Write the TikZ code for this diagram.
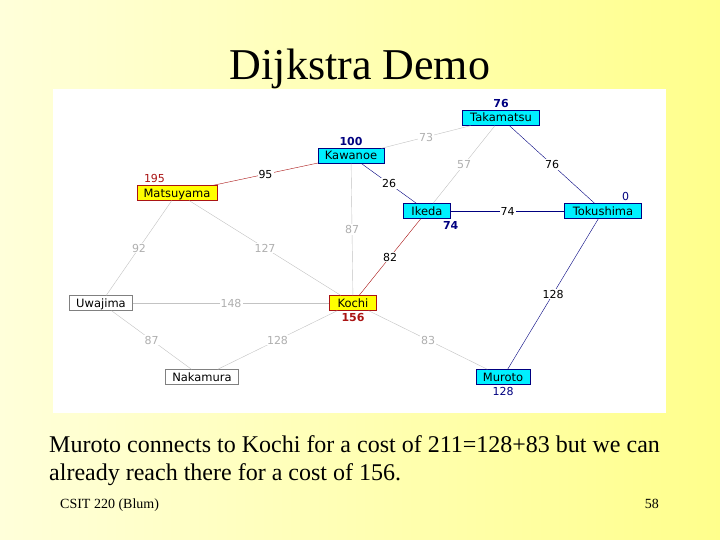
\documentclass[tikz,border=0pt]{standalone}
\usepackage{fontspec}
\setmainfont{Liberation Serif}
\newfontfamily\graphfont{DejaVu Sans}
\usetikzlibrary{positioning}
\definecolor{navy}{RGB}{0,0,128}
\definecolor{darkred}{RGB}{170,20,20}
\definecolor{aqua}{RGB}{0,240,255}
\definecolor{lemon}{RGB}{255,255,0}
\definecolor{lightgrey}{RGB}{195,195,195}
\definecolor{labelgrey}{RGB}{175,175,175}

\begin{document}
\begin{tikzpicture}[
        x=1pt, y=-1pt,
        city/.style={rectangle, draw, inner xsep=3pt, inner ysep=0pt, minimum height=15pt, text height=10pt, text depth=2pt, font=\graphfont\fontsize{11.5}{12}\selectfont},
        known/.style={city, fill=aqua, draw=navy},
        current/.style={city, fill=lemon, draw=darkred},
        unseen/.style={city, fill=white, draw=gray},
        cost/.style={font=\graphfont\fontsize{11}{12}\selectfont, inner sep=1pt},
        boldcost/.style={cost, font=\graphfont\bfseries\fontsize{11}{12}\selectfont},
        dist/.style={fill=white, inner sep=1pt, font=\graphfont\fontsize{11}{12}\selectfont},
        tree/.style={navy, thin},
        path/.style={darkred, thin},
        open/.style={lightgrey, thin}
    ]

    % Background and panel
    \useasboundingbox (0,0) rectangle (720,540);
    \shade[left color={rgb,255:red,255;green,255;blue,218}, right color={rgb,255:red,255;green,255;blue,140}] (0,0) rectangle (720,540);
    \fill[white] (53,89) rectangle (666,413);

    % Title
    \node[font=\fontsize{44}{48}\selectfont, anchor=base] (title) at (360,80) {Dijkstra Demo};

    % Cities
    \node[known, minimum width=77] (takamatsu) at (501,118) {Takamatsu};
    \node[known, minimum width=66] (kawanoe) at (351,156) {Kawanoe};
    \node[current, minimum width=80] (matsuyama) at (177,193) {Matsuyama};
    \node[known, minimum width=47] (ikeda) at (427,211) {Ikeda};
    \node[known, minimum width=77] (tokushima) at (603,211) {Tokushima};
    \node[unseen, minimum width=63] (uwajima) at (101,303) {Uwajima};
    \node[current, minimum width=47] (kochi) at (353,303) {Kochi};
    \node[unseen, minimum width=73] (nakamura) at (202,377) {Nakamura};
    \node[known, minimum width=54] (muroto) at (503,377) {Muroto};

    % Distances found so far
    \node[boldcost, navy, above=1pt of takamatsu] (dtakamatsu) {76};
    \node[boldcost, navy, above=1pt of kawanoe] (dkawanoe) {100};
    \node[cost, darkred, above right=1pt and 6pt of matsuyama.north west] (dmatsuyama) {195};
    \node[boldcost, navy, below=2pt of ikeda.south east] (dikeda) {74};
    \node[cost, navy, above=1pt of tokushima.north east, xshift=-16pt] (dtokushima) {0};
    \node[boldcost, darkred, below=1pt of kochi] (dkochi) {156};
    \node[cost, navy, below=1pt of muroto] (dmuroto) {128};

    % Roads
    \draw[path] (matsuyama) -- node[dist, text=black] {95} (kawanoe);
    \draw[open] (kawanoe) -- node[dist, text=labelgrey] {73} (takamatsu);
    \draw[tree] (kawanoe) -- node[dist, text=black] {26} (ikeda);
    \draw[open] (takamatsu) -- node[dist, text=labelgrey] {57} (ikeda);
    \draw[tree] (takamatsu) -- node[dist, text=black] {76} (tokushima);
    \draw[tree] (ikeda) -- node[dist, text=black] {74} (tokushima);
    \draw[open] (kawanoe) -- node[dist, text=labelgrey] {87} (kochi);
    \draw[path] (ikeda) -- node[dist, text=black] {82} (kochi);
    \draw[open] (matsuyama) -- node[dist, text=labelgrey] {92} (uwajima);
    \draw[open] (matsuyama) -- node[dist, text=labelgrey] {127} (kochi);
    \draw[open] (uwajima) -- node[dist, text=labelgrey] {148} (kochi);
    \draw[open] (uwajima) -- node[dist, text=labelgrey] {87} (nakamura);
    \draw[open] (nakamura) -- node[dist, text=labelgrey] {128} (kochi);
    \draw[open] (kochi) -- node[dist, text=labelgrey] {83} (muroto);
    \draw[tree] (tokushima) -- node[dist, text=black] {128} (muroto);

    % Caption and footer
    \node[font=\fontsize{24}{28}\selectfont, anchor=base west, inner sep=0pt] (line1) at (49,452) {Muroto connects to Kochi for a cost of 211=128+83 but we can};
    \node[font=\fontsize{24}{28}\selectfont, anchor=base west, inner sep=0pt] (line2) at (49,480) {already reach there for a cost of 156.};
    \node[font=\fontsize{14}{16}\selectfont, anchor=base west, inner sep=0pt] (course) at (60,508) {CSIT 220 (Blum)};
    \node[font=\fontsize{14}{16}\selectfont, anchor=base east, inner sep=0pt] (page) at (659,508) {58};

\end{tikzpicture}
\end{document}
